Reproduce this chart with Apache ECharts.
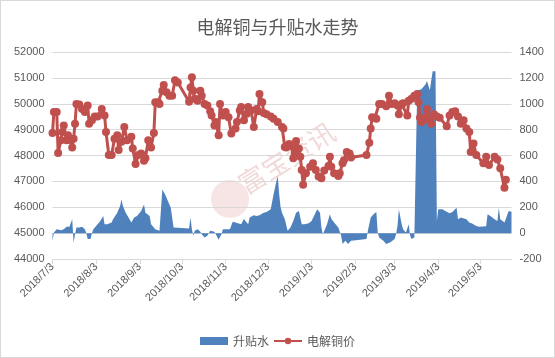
<!DOCTYPE html>
<html>
<head>
<meta charset="utf-8">
<script src="https://cdn.jsdelivr.net/npm/echarts@6/dist/echarts.min.js"></script>
<style>
html,body{margin:0;padding:0;background:#fff;}
#chart{width:555px;height:358px;box-sizing:border-box;border:1px solid #d9d9d9;}
</style>
</head>
<body>
<div id="chart"></div>
<script>
var titleText = '电解铜与升贴水走势';
var seriesNames = ['升贴水', '电解铜价'];
var xTickLabels = ['2018/7/3','2018/8/3','2018/9/3','2018/10/3','2018/11/3','2018/12/3','2019/1/3','2019/2/3','2019/3/3','2019/4/3','2019/5/3'];
var axisStart = '2018-07-03';
var axisEnd = '2019-05-25';

var priceDates = ['2018-07-03','2018-07-04','2018-07-06','2018-07-07','2018-07-09','2018-07-10','2018-07-11','2018-07-13','2018-07-14','2018-07-16','2018-07-17','2018-07-18','2018-07-19','2018-07-20','2018-07-22','2018-07-24','2018-07-26','2018-07-28','2018-07-29','2018-07-31',
'2018-08-02','2018-08-04','2018-08-07','2018-08-09','2018-08-10','2018-08-12','2018-08-14','2018-08-16','2018-08-18','2018-08-19','2018-08-21','2018-08-23','2018-08-25','2018-08-28','2018-08-29','2018-08-31',
'2018-09-02','2018-09-04','2018-09-06','2018-09-07','2018-09-09','2018-09-11','2018-09-13','2018-09-14','2018-09-16','2018-09-17','2018-09-19','2018-09-20','2018-09-22','2018-09-24','2018-09-26','2018-09-28','2018-09-30',
'2018-10-08','2018-10-09','2018-10-10','2018-10-11','2018-10-12','2018-10-14','2018-10-16','2018-10-17','2018-10-19','2018-10-21','2018-10-23','2018-10-24','2018-10-26','2018-10-27','2018-10-29','2018-10-30',
'2018-11-01','2018-11-03','2018-11-05','2018-11-07','2018-11-10','2018-11-11','2018-11-13','2018-11-14','2018-11-16','2018-11-18','2018-11-19','2018-11-21','2018-11-23','2018-11-25','2018-11-26','2018-11-27','2018-11-29','2018-11-30',
'2018-12-02','2018-12-05','2018-12-07','2018-12-10','2018-12-13','2018-12-14','2018-12-15','2018-12-16','2018-12-18','2018-12-20','2018-12-21','2018-12-22','2018-12-23','2018-12-25','2018-12-26','2018-12-27','2018-12-28','2018-12-30',
'2019-01-02','2019-01-04','2019-01-06','2019-01-08','2019-01-10','2019-01-12','2019-01-15','2019-01-16','2019-01-17','2019-01-19','2019-01-22','2019-01-23','2019-01-25','2019-01-26','2019-01-28','2019-01-30','2019-01-31',
'2019-02-11','2019-02-13','2019-02-14','2019-02-15','2019-02-17','2019-02-18','2019-02-20','2019-02-22','2019-02-25','2019-02-27',
'2019-03-01','2019-03-03','2019-03-05','2019-03-06','2019-03-08','2019-03-09','2019-03-12','2019-03-13','2019-03-15','2019-03-17','2019-03-19','2019-03-20','2019-03-21','2019-03-22','2019-03-24','2019-03-26','2019-03-27','2019-03-29','2019-03-31',
'2019-04-02','2019-04-04','2019-04-09','2019-04-11','2019-04-13','2019-04-15','2019-04-17','2019-04-19','2019-04-21','2019-04-23','2019-04-25','2019-04-26','2019-04-28','2019-04-30',
'2019-05-05','2019-05-07','2019-05-09','2019-05-13','2019-05-15','2019-05-17','2019-05-20','2019-05-21'];
var priceValues = [48870,49680,49680,48100,48590,48910,49160,48590,48780,48590,48310,48650,49230,49990,49970,49800,49680,49930,49230,49360,
49510,49510,49800,49550,48910,48020,48020,48650,48780,48210,48530,49100,48590,48720,48270,47670,
48020,48080,47800,47890,48590,48310,48870,50060,50060,49990,50500,50720,50440,50310,50310,50910,50820,
50080,50630,51020,50500,50190,50120,50500,50310,49990,49930,49710,49550,49160,49290,48780,49990,
49550,49680,49480,48850,49040,49290,49740,49870,49360,49610,49870,49740,49100,49800,49710,50380,50060,49640,
49590,49510,49420,49290,49100,49040,48330,48310,48440,48360,47890,48080,48560,48270,47950,47440,46870,47310,
47570,47700,47440,47190,47120,47420,47590,47950,47570,47310,47210,47310,47700,47820,48140,48080,47920,
48020,48490,49040,49480,49460,49420,49990,49990,49900,50310,
49990,50020,49930,49590,49990,50020,49550,50120,50190,50310,50380,50060,49460,49290,49420,49800,49380,49230,49590,
49510,49460,49130,49550,49680,49710,49510,49230,49360,49040,48910,48140,48460,48020,
47700,47950,47630,47950,47850,47510,46750,47060];

var premiumDates = ['2018-07-03','2018-07-04','2018-07-06','2018-07-07','2018-07-09','2018-07-10','2018-07-11','2018-07-13','2018-07-15','2018-07-16','2018-07-17','2018-07-18','2018-07-19','2018-07-20','2018-07-22','2018-07-24','2018-07-26','2018-07-27','2018-07-28','2018-07-30','2018-07-31',
'2018-08-01','2018-08-04','2018-08-06','2018-08-08','2018-08-09','2018-08-11','2018-08-14','2018-08-15','2018-08-18','2018-08-20','2018-08-21','2018-08-22','2018-08-24','2018-08-26','2018-08-28','2018-08-30',
'2018-09-01','2018-09-04','2018-09-06','2018-09-07','2018-09-10','2018-09-11','2018-09-14','2018-09-17','2018-09-18','2018-09-19','2018-09-21','2018-09-25','2018-09-27','2018-09-28',
'2018-10-08','2018-10-09','2018-10-10','2018-10-11','2018-10-12','2018-10-14','2018-10-15','2018-10-16','2018-10-17','2018-10-19','2018-10-21','2018-10-23','2018-10-24','2018-10-26','2018-10-27','2018-10-29','2018-10-30','2018-10-31',
'2018-11-01','2018-11-06','2018-11-08','2018-11-10','2018-11-14','2018-11-16','2018-11-17','2018-11-19','2018-11-20','2018-11-23','2018-11-25','2018-11-27','2018-11-30',
'2018-12-02','2018-12-05','2018-12-07','2018-12-09','2018-12-10','2018-12-11','2018-12-12','2018-12-13','2018-12-15','2018-12-17','2018-12-19','2018-12-21','2018-12-23','2018-12-25','2018-12-27','2018-12-29',
'2019-01-01','2019-01-03','2019-01-07','2019-01-08','2019-01-09','2019-01-10','2019-01-11','2019-01-14','2019-01-16','2019-01-17','2019-01-19','2019-01-22','2019-01-24','2019-01-25','2019-01-27','2019-01-29','2019-01-31',
'2019-02-05','2019-02-11','2019-02-12','2019-02-13','2019-02-14','2019-02-16','2019-02-18','2019-02-19','2019-02-20','2019-02-23','2019-02-25','2019-02-28',
'2019-03-03','2019-03-04','2019-03-05','2019-03-06','2019-03-08','2019-03-09','2019-03-11','2019-03-12','2019-03-13','2019-03-14','2019-03-15','2019-03-17','2019-03-18','2019-03-19','2019-03-22','2019-03-25','2019-03-26','2019-03-28','2019-03-30',
'2019-04-01','2019-04-02','2019-04-03','2019-04-04','2019-04-06','2019-04-08','2019-04-11','2019-04-13','2019-04-14','2019-04-16','2019-04-17','2019-04-19','2019-04-23','2019-04-25','2019-04-27','2019-04-30',
'2019-05-02','2019-05-07','2019-05-08','2019-05-10','2019-05-13','2019-05-15','2019-05-16','2019-05-17','2019-05-20','2019-05-21','2019-05-23','2019-05-25'];
var premiumValues = [-60,5,30,18,23,15,30,50,50,56,107,-77,-8,43,43,50,30,0,-46,-46,0,
30,69,94,133,69,69,82,107,158,209,260,209,158,120,82,120,
133,171,222,158,133,69,30,18,18,337,299,197,43,30,
35,120,30,-20,18,30,43,10,-8,-33,-20,18,30,10,-8,-51,-66,-8,
30,30,87,82,69,112,94,69,120,138,133,138,158,
163,184,299,401,439,300,200,158,107,18,43,94,158,171,69,69,
77,94,184,197,158,43,-8,69,145,112,82,43,-20,-84,-59,-84,-59,
-54,-46,18,18,120,145,163,5,-33,-59,-84,-71,
-46,-8,56,184,69,30,5,-8,69,-20,-46,-33,-46,1103,1113,1150,1175,1105,1252,
1252,94,184,184,184,171,153,163,160,197,107,120,107,82,75,56,
50,53,145,133,107,94,197,107,82,69,171,165];

function toTime(s) { var p = s.split(/[-\/]/); return new Date(+p[0], +p[1] - 1, +p[2]).getTime(); }
function zip(a, b) { return a.map(function (d, i) { return [toTime(d), b[i]]; }); }
var tickTimes = xTickLabels.map(toTime);

var chart = echarts.init(document.getElementById('chart'), null, {renderer: 'canvas'});
var textColor = '#595959';
function plain(v) { return String(v); }
chart.setOption({
  animation: false,
  backgroundColor: '#ffffff',
  title: {
    text: titleText, left: 'center', top: 12,
    textStyle: {fontSize: 18, fontWeight: 'normal', color: textColor, fontFamily: 'Noto Sans CJK SC'}
  },
  legend: {
    bottom: 5, left: 'center', itemGap: 4, itemWidth: 28, itemHeight: 8,
    textStyle: {fontSize: 12, color: textColor, fontFamily: 'Noto Sans CJK SC'},
    data: [{name: seriesNames[0], icon: 'rect'}, {name: seriesNames[1]}]
  },
  graphic: [
    {type: 'circle', shape: {cx: 229, cy: 198, r: 19}, style: {fill: 'rgba(192,80,77,0.15)'}, z: 0, silent: true},
    {type: 'text', x: 247, y: 197, rotation: 0.56,
     style: {text: '富宝资讯', fontSize: 27, fill: 'rgba(192,80,77,0.22)', fontFamily: 'Noto Sans CJK SC', verticalAlign: 'bottom', align: 'left'}, z: 0, silent: true}
  ],
  grid: {left: 51.5, right: 42.5, top: 51, bottom: 98},
  xAxis: {
    type: 'value',
    min: toTime(axisStart), max: toTime(axisEnd),
    axisLine: {show: true, onZero: false, lineStyle: {color: '#d9d9d9', width: 1}},
    axisTick: {show: true, length: 5, lineStyle: {color: '#d9d9d9'}, customValues: tickTimes},
    splitLine: {show: false},
    axisLabel: {
      customValues: tickTimes, rotate: 45, fontSize: 11, color: textColor, margin: 6,
      fontFamily: 'Liberation Sans', hideOverlap: false,
      formatter: function (v) {
        var i = tickTimes.indexOf(v);
        if (i >= 0) return xTickLabels[i];
        var d = new Date(v); return d.getFullYear() + '/' + (d.getMonth() + 1) + '/' + d.getDate();
      }
    }
  },
  yAxis: [
    {type: 'value', min: 44000, max: 52000, interval: 1000, position: 'left',
     axisLine: {show: false}, axisTick: {show: false},
     splitLine: {lineStyle: {color: '#d9d9d9', width: 1}},
     axisLabel: {fontSize: 11, color: textColor, margin: 8, fontFamily: 'Liberation Sans', formatter: plain}},
    {type: 'value', min: -200, max: 1400, interval: 200, position: 'right',
     axisLine: {show: false}, axisTick: {show: false}, splitLine: {show: false},
     axisLabel: {fontSize: 11, color: textColor, margin: 8, fontFamily: 'Liberation Sans', formatter: plain}}
  ],
  series: [
    {name: seriesNames[0], type: 'line', yAxisIndex: 1, data: zip(premiumDates, premiumValues),
     showSymbol: false, symbol: 'none', lineStyle: {width: 0}, color: '#4f81bd',
     areaStyle: {color: '#4f81bd', opacity: 1}, z: 2},
    {name: seriesNames[1], type: 'line', yAxisIndex: 0, data: zip(priceDates, priceValues),
     symbol: 'circle', symbolSize: 8, showAllSymbol: true, color: '#c0504d',
     lineStyle: {width: 3, color: '#c0504d'}, itemStyle: {color: '#c0504d'}, z: 3}
  ]
});
</script>
</body>
</html>
